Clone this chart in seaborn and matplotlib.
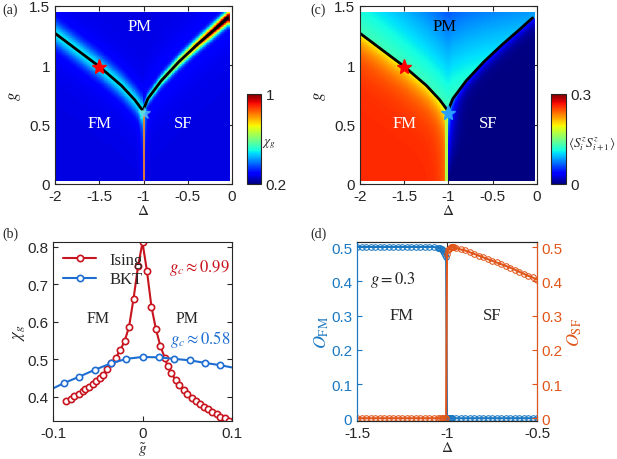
import numpy as np
import matplotlib
matplotlib.use("Agg")
import matplotlib.pyplot as plt
import seaborn as sns

sns.set_style("ticks")
plt.rcParams['font.family'] = ['Liberation Sans', 'DejaVu Sans']
plt.rcParams['mathtext.fontset'] = 'stix'
plt.rcParams['font.size'] = 11

# phase boundary read from (a)/(c)
left_delta = [-2.0, -1.75, -1.5, -1.25, -1.1, -1.02]
left_g = [1.27, 1.13, 0.99, 0.83, 0.71, 0.63]
right_delta = [-1.0, -0.95, -0.8, -0.6, -0.4, -0.2, -0.05]
right_g = [0.63, 0.72, 0.87, 1.03, 1.17, 1.30, 1.40]

# (b) fidelity susceptibility
ising_x = [-0.085, -0.080, -0.076, -0.071, -0.067, -0.064, -0.060, -0.055, -0.052, -0.048, -0.044,
           -0.040, -0.035, -0.030, -0.025, -0.020, -0.015, -0.010, -0.005, 0.0, 0.005, 0.010, 0.015,
           0.020, 0.025, 0.028, 0.032, 0.037, 0.041, 0.046, 0.050, 0.055, 0.060, 0.064, 0.069,
           0.073, 0.078, 0.083, 0.087, 0.092, 0.097]
ising_y = [0.389, 0.394, 0.402, 0.408, 0.414, 0.420, 0.427, 0.434, 0.441, 0.449, 0.459,
           0.473, 0.490, 0.503, 0.524, 0.548, 0.587, 0.662, 0.748, 0.812, 0.735, 0.640, 0.580,
           0.535, 0.503, 0.482, 0.463, 0.445, 0.430, 0.418, 0.407, 0.397, 0.388, 0.380, 0.373,
           0.366, 0.359, 0.353, 0.347, 0.342, 0.336]
bkt_x = [-0.1, -0.088, -0.071, -0.053, -0.035, -0.018, 0.0, 0.018, 0.035, 0.053, 0.070, 0.087, 0.1]
bkt_y = [0.422, 0.436, 0.453, 0.472, 0.489, 0.501, 0.506, 0.505, 0.501, 0.497, 0.490, 0.484, 0.478]

# (d) order parameters at g = 0.3
fm_x = [-1.5, -1.475, -1.45, -1.425, -1.4, -1.375, -1.35, -1.325, -1.3, -1.275, -1.25, -1.225, -1.2,
        -1.175, -1.15, -1.125, -1.1, -1.075, -1.05, -1.045, -1.04, -1.035, -1.03, -1.025, -1.02,
        -1.015, -1.01, -1.005, -1.0, -0.995, -0.99, -0.985, -0.98, -0.975, -0.97, -0.95, -0.925,
        -0.9, -0.875, -0.85, -0.825, -0.8, -0.775, -0.75, -0.725, -0.7, -0.675, -0.65, -0.625,
        -0.6, -0.575, -0.55, -0.525, -0.5]
fm_y = [0.5] * 18 + [0.498, 0.497, 0.496, 0.495, 0.493, 0.49, 0.487, 0.483, 0.478, 0.47, 0.0] + [0.0] * 25
sf_x = [-1.5, -1.475, -1.45, -1.425, -1.4, -1.375, -1.35, -1.325, -1.3, -1.275, -1.25, -1.225, -1.2,
        -1.175, -1.15, -1.125, -1.1, -1.075, -1.05, -1.04, -1.03, -1.02, -1.01, -1.005, -1.0,
        -0.995, -0.99, -0.985, -0.98, -0.975, -0.97, -0.965, -0.96, -0.95, -0.925, -0.9, -0.875,
        -0.85, -0.825, -0.8, -0.775, -0.75, -0.725, -0.7, -0.675, -0.65, -0.625, -0.6, -0.575,
        -0.55, -0.525, -0.5]
sf_y = [0.0] * 24 + [0.48, 0.49, 0.494, 0.497, 0.499, 0.5, 0.5, 0.5, 0.499, 0.497, 0.493, 0.49,
                     0.485, 0.48, 0.475, 0.47, 0.465, 0.46, 0.455, 0.45, 0.445, 0.44, 0.434, 0.428,
                     0.422, 0.416, 0.411, 0.405]

# grids for heat maps built around the boundary
D, G = np.meshgrid(np.linspace(-2, -0.03, 300), np.linspace(0.03, 1.45, 260))
gl = np.interp(D, left_delta, left_g)
gr = np.interp(D, right_delta, right_g)
on_left = D < -1.0
gb = np.where(on_left, gl, gr)
dist = G - gb
# (a)
amp = np.where(on_left, 0.17, 0.22 + 0.6 * (D + 1.0) ** 1.3)
width = np.where(on_left, 0.1, 0.045 + 0.01 * (D + 1))
chi = 0.27 + amp * np.exp(-(dist / width) ** 2) + 0.05 * np.exp(-np.abs(dist) / 0.18)
chi += 0.12 * np.exp(-((D + 1) / 0.04) ** 2) * np.exp(-np.clip(0.6 - G, 0, None) / 0.3) * (G < 0.63)
chi = np.clip(chi, 0.2, 1.0)
# (c)
fm_val = 0.26 - 0.07 * np.exp(-np.clip(-dist, 0, None) / 0.15) - 0.04 * np.exp(-np.clip(-(D + 1), 0, None) / 0.06)
pm_val = 0.15 - 0.05 * (G - gb) - 0.04 * (D + 2) / 2 - 0.03 * (G - 0.6)
sf_val = 0.08 * np.exp(-np.clip(D + 1, 0, None) / 0.07) * np.clip(1 - np.abs(dist) / 0.6, 0, 1) + 0.06 * np.exp(-np.clip(-dist, 0, None) / 0.05)
szz = np.where(dist > 0, pm_val, np.where(on_left, fm_val, sf_val))
szz = np.where((G < 0.62) & (np.abs(D + 1.02) < 0.012), 0.17, szz)

fig = plt.figure(figsize=(6.17, 4.6), dpi=100)
W, H = 617, 460
def box(x0, y0, x1, y1):
    return [x0 / W, 1 - y1 / H, (x1 - x0) / W, (y1 - y0) / H]

ax_a = fig.add_axes(box(55, 7, 232, 185))
cb_a = fig.add_axes(box(247, 95, 261, 185))
ax_c = fig.add_axes(box(360, 7, 537, 185))
cb_c = fig.add_axes(box(551, 95, 566, 185))
ax_b = fig.add_axes(box(53, 243, 232, 422))
ax_d = fig.add_axes(box(357, 243, 537, 422))

serif = dict(family='Liberation Serif')

for ax, field, vmin, vmax, cax, ticks, lab, pmc in [
        (ax_a, chi, 0.2, 1.0, cb_a, [0.2, 1], r'$\chi_g$', 'white'),
        (ax_c, szz, 0.0, 0.3, cb_c, [0, 0.3], r'$\langle S_i^zS_{i+1}^z\rangle$', 'black')]:
    m = ax.pcolormesh(D, G, field, cmap='jet', vmin=vmin, vmax=vmax, shading='auto', rasterized=True)
    sns.lineplot(x=left_delta, y=left_g, ax=ax, color='black', lw=2)
    sns.lineplot(x=right_delta, y=right_g, ax=ax, color='black', lw=2)
    ax.plot(-1.5, 0.99, marker='*', ms=11, color='red', mec='red')
    ax.set_xlim(-2, 0)
    ax.set_ylim(0, 1.5)
    ax.set_xticks([-2, -1.5, -1, -0.5, 0])
    ax.set_xticklabels(['-2', '-1.5', '-1', '-0.5', '0'])
    ax.set_yticks([0, 0.5, 1, 1.5])
    ax.set_yticklabels(['0', '0.5', '1', '1.5'])
    ax.set_xlabel(r'$\Delta$', labelpad=0)
    ax.set_ylabel(r'$g$', fontsize=12)
    ax.tick_params(direction='in', top=True, right=True)
    ax.text(-1.05, 1.3, 'PM', ha='center', fontsize=12, color=pmc, **serif)
    ax.text(-1.5, 0.48, 'FM', ha='center', fontsize=12, color='white', **serif)
    ax.text(-0.55, 0.48, 'SF', ha='center', fontsize=12, color='white', **serif)
    cb = fig.colorbar(m, cax=cax, ticks=ticks)
    cb.ax.set_yticklabels([str(t) for t in ticks])
    cb.ax.tick_params(length=0)
    cax.text(1.1, 0.45, lab, transform=cax.transAxes, fontsize=9.5, va='center', ha='left')

ax_a.plot([-1, -1], [0.03, 0.58], color='#ff8c1a', lw=1.2)
ax_c.plot(-1.0, 0.6, marker='*', ms=11, color='#2aa0ff')
ax_a.plot(-1.0, 0.6, marker='*', ms=9, color='#66c8ff', alpha=0.6)

red = '#c8141e'
blue = '#1e6ed2'
sns.lineplot(x=ising_x, y=ising_y, ax=ax_b, color=red, marker='o', ms=4.5, mfc='white', mec=red,
             mew=1.2, lw=1.5, label='Ising')
ax_b.plot(bkt_x, bkt_y, color=blue, lw=1.5, marker='o', ms=4.5, mfc='white', mec=blue, mew=1.2,
          markevery=list(range(1, len(bkt_x) - 1)), label='BKT')
ax_b.set_xlim(-0.1, 0.1)
ax_b.set_ylim(0.335, 0.813)
ax_b.set_xticks([-0.1, 0, 0.1])
ax_b.set_xticklabels(['-0.1', '0', '0.1'])
ax_b.set_yticks([0.4, 0.5, 0.6, 0.7, 0.8])
ax_b.set_xlabel(r'$\tilde{g}$', labelpad=0)
ax_b.set_ylabel(r'$\chi_g$', fontsize=12, labelpad=0)
ax_b.tick_params(direction='in', top=True, right=True)
ax_b.legend(loc='upper left', frameon=False, prop=dict(family='Liberation Serif', size=12),
            handlelength=2, borderaxespad=0.2, labelspacing=0.2)
ax_b.text(0.098, 0.735, r'$g_c \approx 0.99$', color=red, fontsize=12, ha='right')
ax_b.text(0.098, 0.543, r'$g_c \approx 0.58$', color=blue, fontsize=12, ha='right')
ax_b.text(-0.05, 0.6, 'FM', fontsize=11.5, ha='center', **serif)
ax_b.text(0.05, 0.6, 'PM', fontsize=11.5, ha='center', **serif)

mblue = '#1a78c2'
morange = '#e0561a'
ax_d2 = ax_d.twinx()
sns.lineplot(x=fm_x, y=fm_y, ax=ax_d, color=mblue, marker='o', ms=4, mfc='none', mec=mblue, lw=1.5)
sns.lineplot(x=sf_x, y=sf_y, ax=ax_d2, color=morange, marker='o', ms=4, mfc='none', mec=morange, lw=1.5)
for a in (ax_d, ax_d2):
    a.set_ylim(-0.008, 0.5146)
    a.set_yticks([0, 0.1, 0.2, 0.3, 0.4, 0.5])
    a.set_yticklabels(['0', '0.1', '0.2', '0.3', '0.4', '0.5'])
ax_d.set_xlim(-1.5, -0.5)
ax_d.set_xticks([-1.5, -1, -0.5])
ax_d.set_xticklabels(['-1.5', '-1', '-0.5'])
ax_d.set_xlabel(r'$\Delta$', labelpad=0)
ax_d.set_ylabel(r'$O_{\rm FM}$', color=mblue, fontsize=13, labelpad=0)
ax_d2.set_ylabel(r'$O_{\rm SF}$', color=morange, fontsize=13, labelpad=2)
ax_d.tick_params(axis='y', colors=mblue, direction='in')
ax_d.tick_params(axis='x', direction='in', top=True)
ax_d2.tick_params(axis='y', colors=morange, direction='in')
ax_d.spines['left'].set_color(mblue)
ax_d2.spines['left'].set_color(mblue)
ax_d2.spines['right'].set_color(morange)
ax_d.text(-1.3, 0.395, r'$g = 0.3$', fontsize=12, ha='center')
ax_d.text(-1.25, 0.29, 'FM', fontsize=12, ha='center', **serif)
ax_d.text(-0.75, 0.29, 'SF', fontsize=12, ha='center', **serif)

for x, y, s in [(2, 4, '(a)'), (310, 4, '(c)'), (2, 228, '(b)'), (310, 228, '(d)')]:
    fig.text(x / W, 1 - y / H, s, va='top', fontsize=10, **serif)

fig.savefig('out.png', dpi=100)
